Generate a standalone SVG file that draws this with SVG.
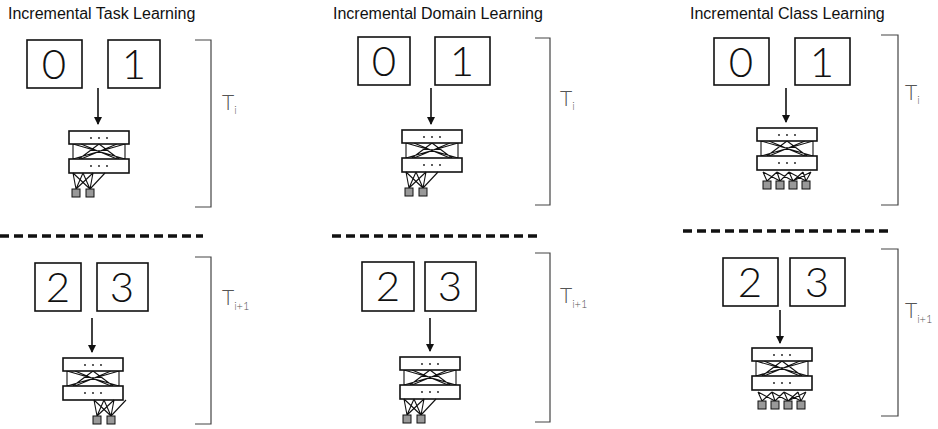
<svg xmlns="http://www.w3.org/2000/svg" width="938" height="429" viewBox="0 0 938 429">
<style>
.t{font-family:"Liberation Sans",Arial,sans-serif;font-size:16px;fill:#111}
.d{font-family:"Lato","Noto Sans",sans-serif;font-weight:300;font-size:42px;fill:#111;text-anchor:middle}
.L{font-family:"Lato","Noto Sans",sans-serif;font-weight:300;font-size:21px;fill:#555}
.s{font-size:11px}
.bx{fill:#fff;stroke:#111;stroke-width:1.6}
.ln{stroke:#111;stroke-width:1.1;fill:none}
.br{stroke:#444;stroke-width:1.2;fill:none}
.da{stroke:#111;stroke-width:3.5;stroke-dasharray:9,5}
.ar{stroke:#111;stroke-width:1.6}
.o{fill:#999;stroke:#111;stroke-width:1}
</style>
<defs>
<marker id="ah" markerWidth="8" markerHeight="8" refX="7" refY="4" orient="auto" markerUnits="userSpaceOnUse" viewBox="0 0 8 8"><path d="M0,0L8,4L0,8z" fill="#111"/></marker>
<g id="net">
<path class="ln" d="M4,13L56,28M56,13L4,28M12,13L48,28M48,13L12,28M4,13L4,28M56,13L56,28M30,13L10,28M30,13L50,28"/>
<rect class="bx" x="0" y="0" width="60" height="13"/>
<rect class="bx" x="0" y="28" width="60" height="14"/>
<g fill="#111"><circle cx="22" cy="7" r="0.9"/><circle cx="30" cy="7" r="0.9"/><circle cx="38" cy="7" r="0.9"/><circle cx="30" cy="20" r="0.9"/><circle cx="22" cy="35" r="0.9"/><circle cx="30" cy="35" r="0.9"/><circle cx="38" cy="35" r="0.9"/></g>
</g>
<g id="out2">
<path class="ln" d="M4,0L7,16M14,0L7,16M24,0L7,16M4,0L21,16M14,0L21,16M24,0L21,16M36,0L21,16"/>
<rect class="o" x="3" y="16" width="8" height="8"/><rect class="o" x="17" y="16" width="8" height="8"/>
</g>
<g id="out4">
<path class="ln" d="M6,0L10,9M6,0L23,9M20,0L10,9M20,0L36,9M32,0L23,9M32,0L49,9M46,0L36,9M46,0L49,9M54,0L49,9M54,0L36,9M20,0L23,9M32,0L36,9"/>
<rect class="o" x="6" y="9" width="8" height="8"/><rect class="o" x="19" y="9" width="8" height="8"/><rect class="o" x="32" y="9" width="8" height="8"/><rect class="o" x="45" y="9" width="8" height="8"/>
</g>
</defs>
<g id="titles">
<text class="t" x="8" y="19">Incremental Task Learning</text>
<text class="t" x="333" y="19">Incremental Domain Learning</text>
<text class="t" x="690" y="19">Incremental Class Learning</text>
</g>
<g id="connectors">
<line class="ar" x1="98" y1="88" x2="98" y2="124" marker-end="url(#ah)"/>
<line class="ar" x1="92" y1="318" x2="92" y2="352" marker-end="url(#ah)"/>
<line class="ar" x1="431" y1="88" x2="431" y2="124" marker-end="url(#ah)"/>
<line class="ar" x1="430" y1="318" x2="430" y2="351" marker-end="url(#ah)"/>
<line class="ar" x1="786" y1="88" x2="786" y2="122" marker-end="url(#ah)"/>
<line class="ar" x1="780" y1="310" x2="780" y2="343" marker-end="url(#ah)"/>
</g>
<g id="dividers">
<line class="da" x1="0" y1="236" x2="203" y2="236"/>
<line class="da" x1="332" y1="236" x2="540" y2="236"/>
<line class="da" x1="683" y1="231" x2="890" y2="231"/>
</g>
<g id="p1top">
<rect class="bx" x="27" y="40" width="55" height="48"/><text class="d" x="54" y="79">0</text>
<rect class="bx" x="108" y="40" width="52" height="48"/><text class="d" x="134" y="79">1</text>
<use href="#net" x="69" y="131"/><use href="#out2" x="69" y="173"/>
<path class="br" d="M195,40H211V207H195"/>
<text class="L" x="222" y="110">T<tspan class="s" dy="4">i</tspan></text>
</g>
<g id="p1bot">
<rect class="bx" x="35" y="263" width="46" height="48"/><text class="d" x="58" y="302">2</text>
<rect class="bx" x="97" y="263" width="51" height="48"/><text class="d" x="122" y="302">3</text>
<use href="#net" x="63" y="358"/><use href="#out2" x="90" y="400"/>
<path class="br" d="M195,257H211V424H195"/>
<text class="L" x="222" y="305">T<tspan class="s" dy="5">i+1</tspan></text>
</g>
<g id="p2top">
<rect class="bx" x="358" y="37" width="52" height="48"/><text class="d" x="384" y="76">0</text>
<rect class="bx" x="435" y="37" width="55" height="48"/><text class="d" x="462" y="76">1</text>
<use href="#net" x="402" y="130"/><use href="#out2" x="402" y="172"/>
<path class="br" d="M535,38H550V205H535"/>
<text class="L" x="560" y="106">T<tspan class="s" dy="4">i</tspan></text>
</g>
<g id="p2bot">
<rect class="bx" x="362" y="262" width="52" height="49"/><text class="d" x="388" y="301">2</text>
<rect class="bx" x="425" y="262" width="51" height="49"/><text class="d" x="450" y="301">3</text>
<use href="#net" x="400" y="357"/><use href="#out2" x="400" y="399"/>
<path class="br" d="M535,253H550V422H535"/>
<text class="L" x="560" y="303">T<tspan class="s" dy="5">i+1</tspan></text>
</g>
<g id="p3top">
<rect class="bx" x="714" y="38" width="55" height="47"/><text class="d" x="741" y="77">0</text>
<rect class="bx" x="795" y="38" width="55" height="47"/><text class="d" x="822" y="77">1</text>
<use href="#net" x="757" y="128"/><use href="#out4" x="757" y="172"/>
<path class="br" d="M881,35H898V205H881"/>
<text class="L" x="905" y="100">T<tspan class="s" dy="4">i</tspan></text>
</g>
<g id="p3bot">
<rect class="bx" x="723" y="258" width="55" height="48"/><text class="d" x="750" y="297">2</text>
<rect class="bx" x="790" y="258" width="55" height="48"/><text class="d" x="817" y="297">3</text>
<use href="#net" x="752" y="348"/><use href="#out4" x="752" y="392"/>
<path class="br" d="M881,249H898V416H881"/>
<text class="L" x="905" y="318">T<tspan class="s" dy="5">i+1</tspan></text>
</g>
</svg>
